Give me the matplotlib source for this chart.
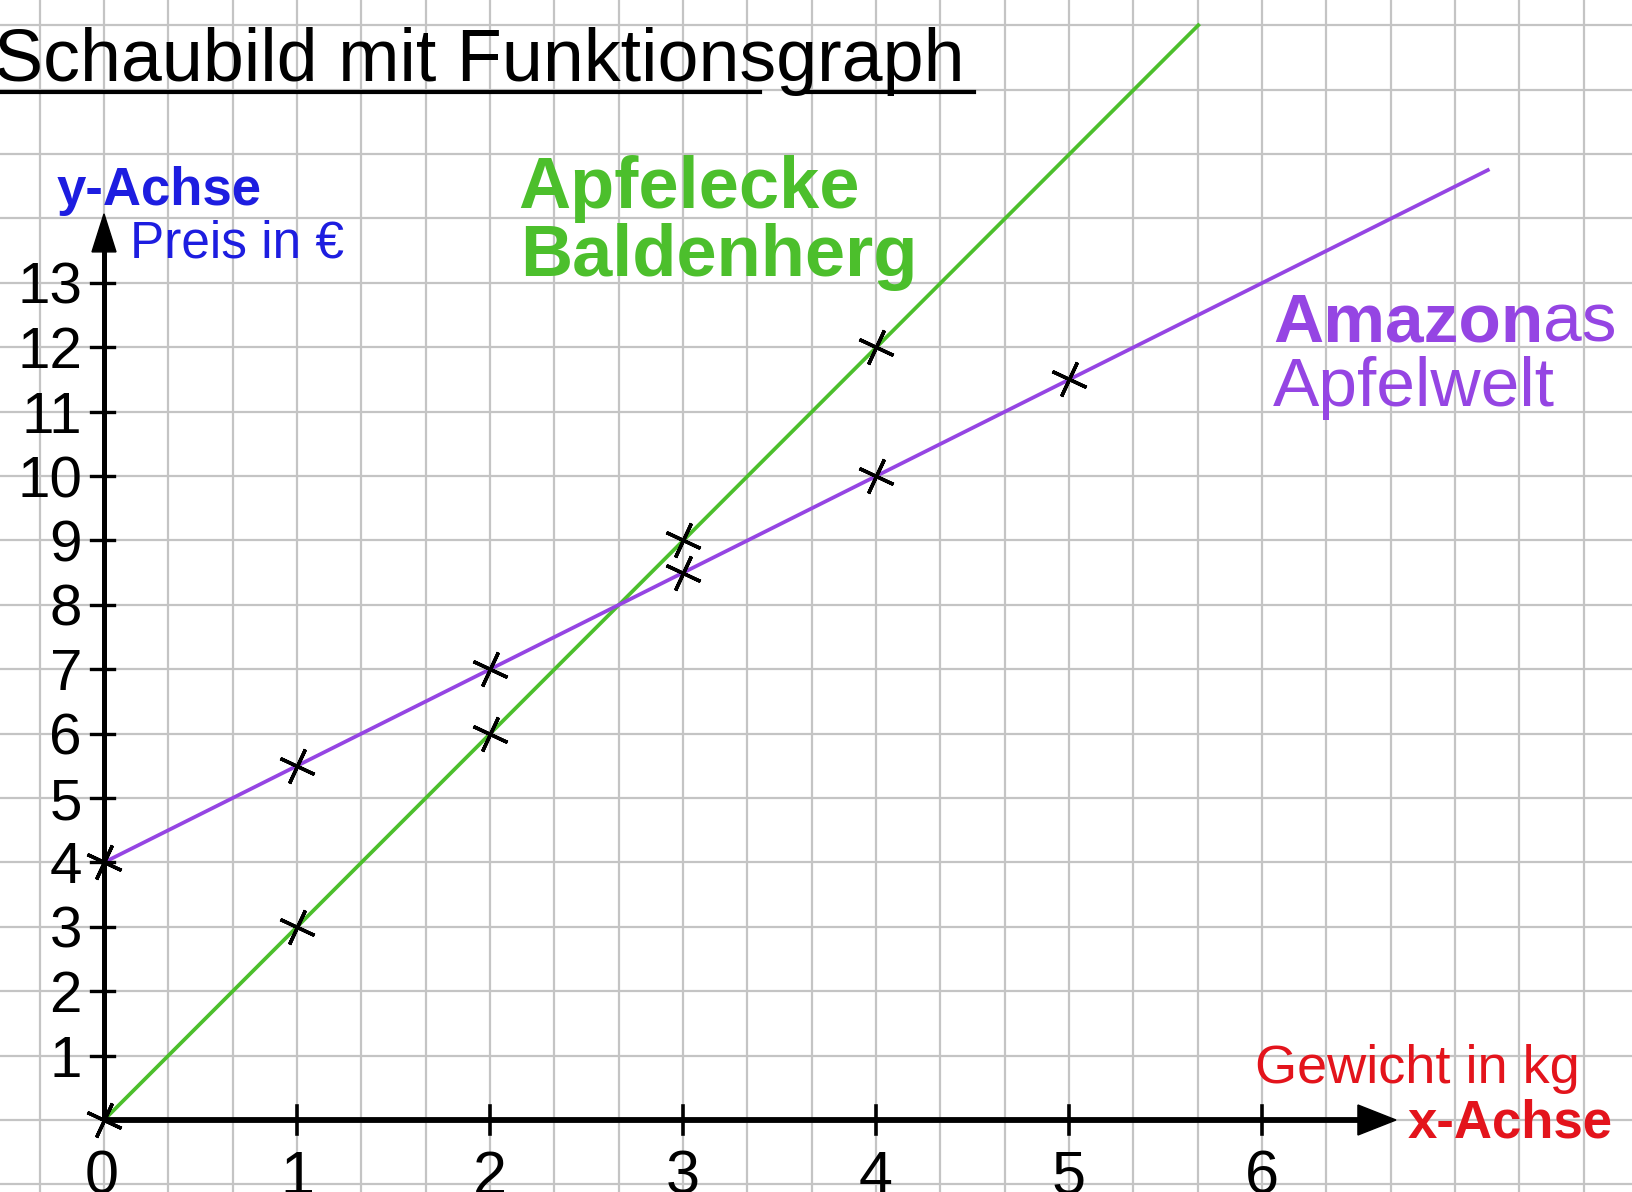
import matplotlib
matplotlib.use("Agg")
import matplotlib.pyplot as plt
import numpy as np

# ---------------- data ----------------
x_ticks = [1, 2, 3, 4, 5, 6]
x_tick_labels = ["1", "2", "3", "4", "5", "6"]
y_ticks = list(range(1, 14))
y_tick_labels = [str(v) for v in y_ticks]

green_x = [0, 1, 2, 3, 4]            # Apfelecke Baldenherg
green_y = [0, 3, 6, 9, 12]
green_line_x = [0, 5.67]
green_line_y = [0, 17.0]

purple_x = [0, 1, 2, 3, 4, 5]        # Amazonas Apfelwelt
purple_y = [4, 5.5, 7, 8.5, 10, 11.5]
purple_line_x = [0, 7.17]
purple_line_y = [4, 14.75]

# ---------------- layout calibration (pixels) ----------------
W, H = 1633, 1192
X0, Y0 = 104.0, 1120.0     # pixel position of origin
UX, UY = 193.0, 64.4       # pixels per unit

GREEN = "#4cbf2c"
PURPLE = "#9545e3"
BLUE = "#1d1de0"
RED = "#e3141c"
GRID = "#c4c4c4"
FONT = "Liberation Sans"

fig = plt.figure(figsize=(W / 100, H / 100), dpi=100)
ax = fig.add_axes([0, 0, 1, 1])
ax.set_xlim(-X0 / UX, (W - X0) / UX)
ax.set_ylim((Y0 - H) / UY, Y0 / UY)
ax.axis("off")
fig.patch.set_facecolor("white")

# graph paper grid (square cells: 1/3 unit in x, 1 unit in y)
xmin, xmax = ax.get_xlim()
ymin, ymax = ax.get_ylim()
for k in range(-3, 30):
    gx = k / 3
    if xmin <= gx <= xmax:
        ax.axvline(gx, color=GRID, lw=1.6, zorder=0)
for gy in range(-1, 19):
    ax.axhline(gy, color=GRID, lw=1.6, zorder=0)

# axes
ax.plot([0, 6.52], [0, 0], color="black", lw=4.2, solid_capstyle="butt", zorder=3)
ax.plot([0, 0], [0, 13.55], color="black", lw=3.6, solid_capstyle="butt", zorder=3)
# arrow heads
xt = 6.694
ax.fill([xt, xt - 38 / UX, xt - 38 / UX], [0, 15 / UY, -15 / UY], color="black", zorder=3)
yt = 14.07
ax.fill([0, 12 / UX, -12 / UX], [yt, yt - 38 / UY, yt - 38 / UY], color="black", zorder=3)

# ticks
for t in x_ticks:
    ax.plot([t, t], [-14 / UY, 14 / UY], color="black", lw=2.6, zorder=3)
for t in y_ticks:
    ax.plot([-13 / UX, 10 / UX], [t, t], color="black", lw=2.4, zorder=3)

# tick labels
ax.text(-2 / UX, (Y0 - 1194) / UY, "0", fontsize=44, family=FONT,
        ha="center", va="baseline", zorder=4)
for t, lab in zip(x_ticks, x_tick_labels):
    ax.text(t, (Y0 - 1194) / UY, lab, fontsize=44, family=FONT,
            ha="center", va="baseline", zorder=4)
for t, lab in zip(y_ticks, y_tick_labels):
    ax.text(-22 / UX, t, lab, fontsize=42, family=FONT,
            ha="right", va="center_baseline", zorder=4)

# function graphs
ax.plot(green_line_x, green_line_y, color=GREEN, lw=2.7, zorder=2)
ax.plot(purple_line_x, purple_line_y, color=PURPLE, lw=2.7, zorder=2)

cross = (4, 2, -25)
ax.plot(green_x, green_y, linestyle="none", marker=cross, markersize=27,
        markeredgewidth=2.5, color="black", zorder=5)
ax.plot(purple_x, purple_y, linestyle="none", marker=cross, markersize=27,
        markeredgewidth=2.5, color="black", zorder=5)

def px_x(p):
    return (p - X0) / UX

def px_y(p):
    return (Y0 - p) / UY

# title with underline
ax.text(px_x(-6), px_y(81), "Schaubild mit Funktionsgraph", fontsize=53,
        family=FONT, color="black", ha="left", va="baseline", zorder=4)
ax.plot([px_x(0), px_x(760)], [px_y(92), px_y(92)], color="black", lw=3, zorder=4)
ax.plot([px_x(807), px_x(974)], [px_y(92), px_y(92)], color="black", lw=3, zorder=4)

# axis labels
ax.text(px_x(57), px_y(205), "y-Achse", fontsize=38, family=FONT, weight="bold",
        color=BLUE, ha="left", va="baseline", zorder=4)
ax.text(px_x(130), px_y(257), "Preis in €", fontsize=37, family=FONT,
        color=BLUE, ha="left", va="baseline", zorder=4)
ax.text(px_x(1255), px_y(1083), "Gewicht in kg", fontsize=39, family=FONT,
        color=RED, ha="left", va="baseline", zorder=4)
ax.text(px_x(1408), px_y(1138), "x-Achse", fontsize=38, family=FONT, weight="bold",
        color=RED, ha="left", va="baseline", zorder=4)

# series labels
ax.text(px_x(518), px_y(208), "Apfelecke", fontsize=52, family=FONT, weight="bold",
        color=GREEN, ha="left", va="baseline", zorder=4)
ax.text(px_x(520), px_y(276), "Baldenherg", fontsize=52, family=FONT, weight="bold",
        color=GREEN, ha="left", va="baseline", zorder=4)
t1 = ax.text(px_x(1273), px_y(342), "Amazon", fontsize=50, family=FONT, weight="bold",
             color=PURPLE, ha="left", va="baseline", zorder=4)
ax.annotate("as", xy=(1, 0), xycoords=t1, fontsize=50, family=FONT,
            color=PURPLE, ha="left", va="bottom", zorder=4)
ax.text(px_x(1273), px_y(406), "Apfelwelt", fontsize=50, family=FONT,
        color=PURPLE, ha="left", va="baseline", zorder=4)

fig.savefig("out.png", dpi=100, facecolor="white")
